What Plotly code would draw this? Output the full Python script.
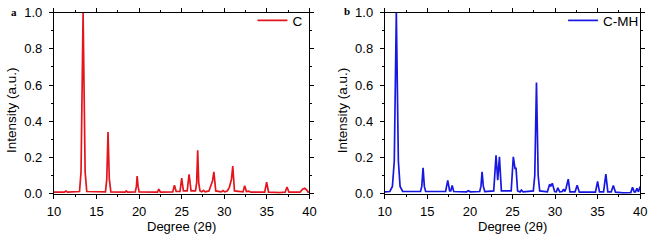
import plotly.graph_objects as go

# ---- data (2θ in degrees, normalised intensity) ----
c_points = [
    (10.0, 0.008), (11.2, 0.008), (11.4, 0.015), (11.6, 0.008),
    (13.0, 0.012), (13.18, 0.12), (13.42, 1.0), (13.66, 0.12), (13.85, 0.012),
    (16.05, 0.01), (16.2, 0.08), (16.35, 0.34), (16.5, 0.08), (16.68, 0.01),
    (18.35, 0.008), (18.5, 0.015), (18.65, 0.008),
    (19.55, 0.01), (19.68, 0.04), (19.77, 0.097), (19.88, 0.04), (20.0, 0.01),
    (22.15, 0.008), (22.32, 0.025), (22.5, 0.008),
    (23.95, 0.01), (24.15, 0.047), (24.35, 0.012),
    (24.8, 0.012), (25.0, 0.086), (25.2, 0.015),
    (25.65, 0.015), (25.87, 0.107), (26.1, 0.015),
    (26.62, 0.015), (26.76, 0.06), (26.88, 0.24), (27.0, 0.06), (27.15, 0.015),
    (27.35, 0.01), (27.56, 0.018), (27.75, 0.01),
    (28.2, 0.015), (28.5, 0.05), (28.62, 0.07), (28.78, 0.12), (29.0, 0.015),
    (29.65, 0.01), (29.85, 0.017), (30.05, 0.01),
    (30.35, 0.015), (30.6, 0.035), (30.85, 0.08), (31.0, 0.153), (31.2, 0.015),
    (32.2, 0.01), (32.4, 0.044), (32.6, 0.012), (32.9, 0.014), (33.1, 0.008),
    (34.75, 0.008), (34.98, 0.063), (35.2, 0.008),
    (36.5, 0.006), (37.15, 0.008), (37.37, 0.037), (37.6, 0.008),
    (38.9, 0.008), (39.2, 0.025), (39.45, 0.03), (39.7, 0.02), (39.85, 0.008), (40.0, 0.008),
]

cmh_points = [
    (10.0, 0.01), (10.6, 0.012), (10.9, 0.04), (11.12, 0.18), (11.36, 1.0), (11.6, 0.18),
    (11.8, 0.04), (12.1, 0.012),
    (14.2, 0.012), (14.35, 0.04), (14.5, 0.143), (14.65, 0.04), (14.8, 0.012),
    (17.15, 0.012), (17.4, 0.073), (17.62, 0.015), (17.75, 0.015), (17.92, 0.045), (18.1, 0.012),
    (19.6, 0.01), (19.82, 0.016), (20.05, 0.01),
    (21.15, 0.012), (21.3, 0.04), (21.43, 0.12), (21.58, 0.04), (21.75, 0.012),
    (22.8, 0.015), (23.07, 0.212), (23.27, 0.075), (23.47, 0.203), (23.7, 0.015),
    (24.85, 0.015), (25.1, 0.203), (25.3, 0.14), (25.42, 0.14), (25.6, 0.015),
    (25.9, 0.01), (26.05, 0.02), (26.25, 0.01),
    (27.45, 0.015), (27.62, 0.1), (27.82, 0.614), (28.02, 0.1), (28.2, 0.015),
    (29.1, 0.01), (29.37, 0.052), (29.5, 0.04), (29.68, 0.057), (29.95, 0.012),
    (30.15, 0.01), (30.33, 0.032), (30.55, 0.01),
    (30.85, 0.012), (31.0, 0.025), (31.15, 0.012), (31.3, 0.03), (31.55, 0.08), (31.75, 0.01),
    (32.35, 0.01), (32.6, 0.047), (32.85, 0.008),
    (34.75, 0.008), (35.0, 0.068), (35.22, 0.01),
    (35.7, 0.01), (35.97, 0.108), (36.2, 0.01),
    (36.6, 0.01), (36.85, 0.045), (37.1, 0.008),
    (38.0, 0.004), (38.9, 0.006), (39.1, 0.035), (39.3, 0.01), (39.45, 0.01), (39.62, 0.03),
    (39.8, 0.01), (40.0, 0.04),
]

c_x = [p[0] for p in c_points]
c_y = [p[1] for p in c_points]
cmh_x = [p[0] for p in cmh_points]
cmh_y = [p[1] for p in cmh_points]

x_ticks = [10, 15, 20, 25, 30, 35, 40]
y_ticks = [0.0, 0.2, 0.4, 0.6, 0.8, 1.0]
y_tick_text = ["0.0", "0.2", "0.4", "0.6", "0.8", "1.0"]

# ---- layout helpers (pixel -> paper) ----
W, H = 655, 242
def px(x):
    return x / W
def py(y):
    return 1 - y / H

FONT = "Liberation Sans, Arial, sans-serif"
RED = "#e3151d"
BLUE = "#1717e2"

fig = go.Figure()
fig.add_trace(go.Scatter(x=c_x, y=c_y, mode="lines", name="C",
                         line=dict(color=RED, width=1.7),
                         xaxis="x", yaxis="y", legend="legend"))
fig.add_trace(go.Scatter(x=cmh_x, y=cmh_y, mode="lines", name="C-MH",
                         line=dict(color=BLUE, width=1.7),
                         xaxis="x2", yaxis="y2", legend="legend2"))

axis_common = dict(
    showline=True, linecolor="black", linewidth=1, mirror="ticks",
    ticks="outside", ticklen=4, tickwidth=1, tickcolor="black",
    showgrid=False, zeroline=False, ticklabeloverflow="allow",
    tickfont=dict(family=FONT, size=13, color="black"),
)
xcommon = dict(axis_common, range=[10, 40], tickvals=x_ticks,
               minor=dict(dtick=2.5, tick0=10, ticks="outside", ticklen=2, tickcolor="black"),
               ticklabelstandoff=2)
ycommon = dict(axis_common, range=[0, 1.0], tickvals=y_ticks, ticktext=y_tick_text,
               minor=dict(dtick=0.1, tick0=0, ticks="outside", ticklen=2, tickcolor="black"),
               ticklabelstandoff=4)

fig.update_layout(
    width=W, height=H,
    margin=dict(l=0, r=0, t=0, b=0),
    paper_bgcolor="white", plot_bgcolor="white",
    xaxis=dict(xcommon, domain=[px(48), px(309)], anchor="y"),
    yaxis=dict(ycommon, domain=[py(199), py(6)], anchor="x"),
    xaxis2=dict(xcommon, domain=[px(386), px(647)], anchor="y2"),
    yaxis2=dict(ycommon, domain=[py(199), py(6)], anchor="x2"),
    legend=dict(x=px(307), y=1 + 2 / H, xanchor="right", yanchor="top",
                bgcolor="rgba(0,0,0,0)", font=dict(family=FONT, size=13.5, color="black")),
    legend2=dict(x=px(651), y=1 + 2 / H, xanchor="right", yanchor="top",
                 bgcolor="rgba(0,0,0,0)", font=dict(family=FONT, size=13.5, color="black")),
    showlegend=True,
)

title_font = dict(family=FONT, size=13, color="black")
annotations = [
    dict(text="Degree (2θ)", x=px(178.5), y=py(234), xref="paper", yref="paper",
         showarrow=False, font=title_font, xanchor="center", yanchor="middle", borderpad=0),
    dict(text="Degree (2θ)", x=px(516.5), y=py(234), xref="paper", yref="paper",
         showarrow=False, font=title_font, xanchor="center", yanchor="middle", borderpad=0),
    dict(text="Intensity (a.u.)", x=px(4), y=py(110), xref="paper", yref="paper",
         showarrow=False, font=dict(family=FONT, size=13.5, color="black"), textangle=-90,
         xanchor="center", yanchor="middle"),
    dict(text="Intensity (a.u.)", x=px(342.5), y=py(110), xref="paper", yref="paper",
         showarrow=False, font=dict(family=FONT, size=13.5, color="black"), textangle=-90,
         xanchor="center", yanchor="middle"),
    dict(text="<b>a</b>", x=px(7), y=py(5), xref="paper", yref="paper", showarrow=False,
         font=dict(family="Liberation Serif, Times New Roman, serif", size=11, color="black"),
         xanchor="center", yanchor="middle"),
    dict(text="<b>b</b>", x=px(347), y=py(4.5), xref="paper", yref="paper", showarrow=False,
         font=dict(family="Liberation Serif, Times New Roman, serif", size=11, color="black"),
         xanchor="center", yanchor="middle"),
]
fig.update_layout(annotations=annotations)

# remove the browser's default page margin so the 655x242 figure fills the window
fig.write_html("out.html",
               config={"displayModeBar": False},
               post_script="document.body.style.margin='0px';document.body.style.overflow='hidden';")
